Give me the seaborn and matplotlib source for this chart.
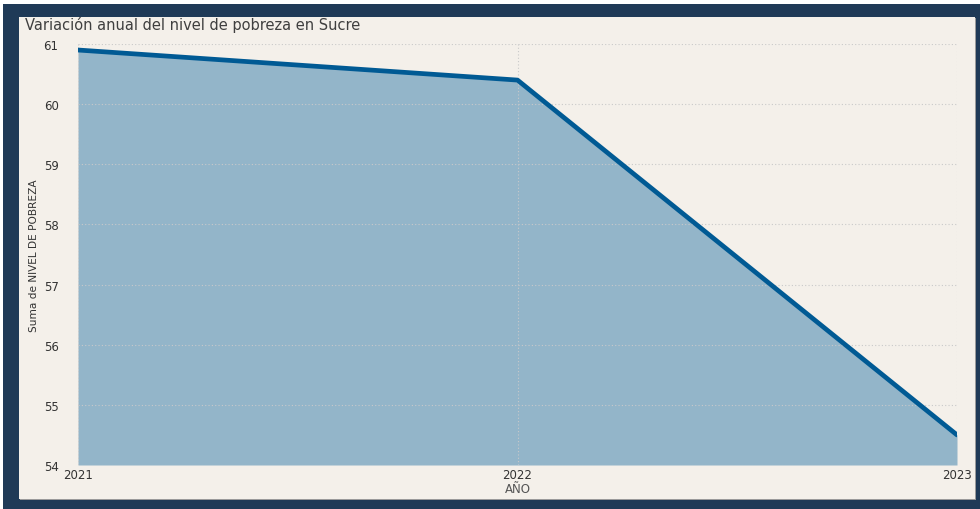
import matplotlib
matplotlib.use("Agg")
import matplotlib.pyplot as plt
import seaborn as sns
import pandas as pd
from matplotlib.patches import Rectangle

years = [2021, 2022, 2023]
pobreza = [60.9, 60.4, 54.5]
yticks = [54, 55, 56, 57, 58, 59, 60, 61]

df = pd.DataFrame({"AÑO": years, "NIVEL": pobreza})

sns.set_theme(style="white")
plt.rcParams['font.family'] = ['DejaVu Sans']

W, H = 980, 510
fig = plt.figure(figsize=(W / 100, H / 100), dpi=100)
fig.patch.set_facecolor("white")
navy = "#1f3a57"
panel_bg = "#f4f0ea"
# navy frame (white strip on top/left)
fig.add_artist(Rectangle((3 / W, 0), (W - 3) / W, (H - 5) / H,
                         transform=fig.transFigure, facecolor=navy,
                         edgecolor="none", zorder=-3))
# shadow
fig.add_artist(Rectangle((20 / W, (H - 501) / H), (976 - 20) / W, (501 - 19) / H,
                         transform=fig.transFigure, facecolor="#9a9a9a",
                         edgecolor="none", zorder=-2))
fig.add_artist(Rectangle((19 / W, (H - 500) / H), (975 - 19) / W, (500 - 18) / H,
                         transform=fig.transFigure, facecolor=panel_bg,
                         edgecolor="none", zorder=-1))

ax = fig.add_axes([78 / W, (H - 466) / H, (957 - 78) / W, (466 - 45) / H])
ax.set_zorder(1)
ax.set_facecolor(panel_bg)

ax.fill_between(df["AÑO"], df["NIVEL"], 54, color="#93b5c9", linewidth=0, zorder=1)
sns.lineplot(data=df, x="AÑO", y="NIVEL", ax=ax, color="#005a94", linewidth=3.4,
             zorder=3)

ax.set_xlim(2021, 2023)
ax.set_ylim(54, 61)
ax.set_yticks(yticks)
ax.set_xticks(years)
ax.set_xticklabels([str(y) for y in years])
ax.grid(True, axis="both", linestyle=(0, (1, 2)), color="#c9c9c9", linewidth=0.8, zorder=2)
ax.set_axisbelow(False)
for s in ax.spines.values():
    s.set_visible(False)
ax.tick_params(axis="both", length=0, labelsize=8.5, colors="#333333")
ax.tick_params(axis="y", pad=14)
ax.tick_params(axis="x", pad=2)

ax.set_xlabel("AÑO", fontsize=8.5, color="#555555", labelpad=1)
ax.set_ylabel("Suma de NIVEL DE POBREZA", fontsize=7.6, color="#333333",
              labelpad=3, family="Liberation Sans Narrow")

fig.text(25 / W, 1 - 25 / H, "Variación anual del nivel de pobreza en Sucre",
         fontsize=10.5, color="#3f3f3f", va="center", ha="left")

fig.savefig("out.png", dpi=100, facecolor=fig.get_facecolor())
